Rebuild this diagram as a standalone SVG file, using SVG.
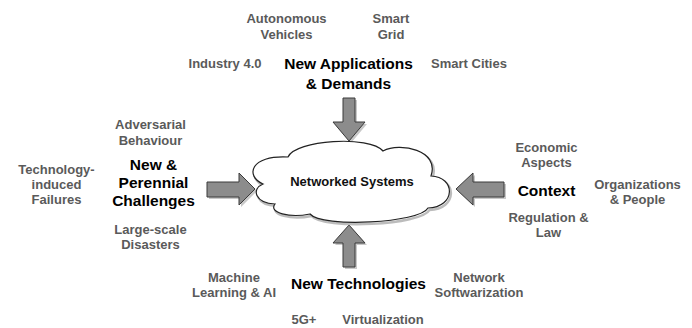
<svg xmlns="http://www.w3.org/2000/svg" width="692" height="328" viewBox="0 0 692 328">
<style>
.sub{font-family:"Liberation Sans",Arial,sans-serif;font-weight:bold;font-size:13px;fill:#5a5a5a;text-anchor:middle}
.main{font-family:"Liberation Sans",Arial,sans-serif;font-weight:bold;font-size:15.5px;fill:#000;text-anchor:middle}
.arrow{fill:#8c8c8c;stroke:#3a3a3a;stroke-width:1;stroke-linejoin:miter}
.ashadow{fill:#c8c8c8;stroke:none}
.cloud{fill:#fff;stroke:#222;stroke-width:1.2}
.cshadow{fill:none;stroke:#a0a0a0;stroke-width:2.5;opacity:0.7}
</style>
<defs>
<path id="cloudPath" d="M263,184 C245,176 250,155 288,157 C295,140 370,135 383,151 C400,142 440,150 431,176 C456,177 456,207 428,208 C420,223 322,228 310,214 C290,218 268,213 275,204 C255,203 251,189 263,184 Z"/>
</defs>
<rect width="692" height="328" fill="#fff"/>

<g id="connectors">
<polygon class="ashadow" points="345,100 357,100 357,124 367,124 351,143 335,124 345,124"/>
<polygon class="arrow" points="343,98 355,98 355,122 365,122 349,141 333,122 343,122"/>
<polygon class="ashadow" points="351,227 367,245 357,245 357,269 345,269 345,245 335,245"/>
<polygon class="arrow" points="349,225 365,243 355,243 355,267 343,267 343,243 333,243"/>
<polygon class="ashadow" points="209,184 241,184 241,175 257,191 241,207 241,199 209,199"/>
<polygon class="arrow" points="207,182 239,182 239,173 255,189 239,205 239,197 207,197"/>
<polygon class="ashadow" points="458,191 475,175 475,184 506,184 506,199 475,199 475,207"/>
<polygon class="arrow" points="456,189 473,173 473,182 504,182 504,197 473,197 473,205"/>
</g>

<g id="networked-systems">
<use href="#cloudPath" class="cshadow" transform="translate(1.5,2)"/>
<use href="#cloudPath" class="cloud"/>
<text x="352" y="186" style="font-family:'Liberation Sans',Arial,sans-serif;font-weight:bold;font-size:13px;fill:#111;text-anchor:middle">Networked Systems</text>
</g>

<g id="new-applications">
<text class="main" x="348.5" y="69">New Applications</text>
<text class="main" x="348.5" y="89">&amp; Demands</text>
<text class="sub" x="286.5" y="23">Autonomous</text>
<text class="sub" x="286.5" y="39">Vehicles</text>
<text class="sub" x="391" y="23">Smart</text>
<text class="sub" x="391" y="39">Grid</text>
<text class="sub" x="225" y="68">Industry 4.0</text>
<text class="sub" x="469" y="68">Smart Cities</text>
</g>

<g id="challenges">
<text class="main" x="153.5" y="170">New &amp;</text>
<text class="main" x="153.5" y="188">Perennial</text>
<text class="main" x="153.5" y="206">Challenges</text>
<text class="sub" x="150.5" y="129">Adversarial</text>
<text class="sub" x="150.5" y="145">Behaviour</text>
<text class="sub" x="56.5" y="174">Technology-</text>
<text class="sub" x="56.5" y="189">induced</text>
<text class="sub" x="56.5" y="204">Failures</text>
<text class="sub" x="150.5" y="234">Large-scale</text>
<text class="sub" x="150.5" y="249">Disasters</text>
</g>

<g id="context">
<text class="main" x="546.5" y="195.5">Context</text>
<text class="sub" x="546.5" y="151.5">Economic</text>
<text class="sub" x="546.5" y="167">Aspects</text>
<text class="sub" x="637.5" y="189">Organizations</text>
<text class="sub" x="637.5" y="204">&amp; People</text>
<text class="sub" x="548.5" y="222">Regulation &amp;</text>
<text class="sub" x="548.5" y="237">Law</text>
</g>

<g id="new-technologies">
<text class="main" x="358.5" y="289">New Technologies</text>
<text class="sub" x="234" y="281.5">Machine</text>
<text class="sub" x="234" y="296.5">Learning &amp; AI</text>
<text class="sub" x="479" y="281.5">Network</text>
<text class="sub" x="479" y="297">Softwarization</text>
<text class="sub" x="304" y="324">5G+</text>
<text class="sub" x="383" y="324">Virtualization</text>
</g>
</svg>
